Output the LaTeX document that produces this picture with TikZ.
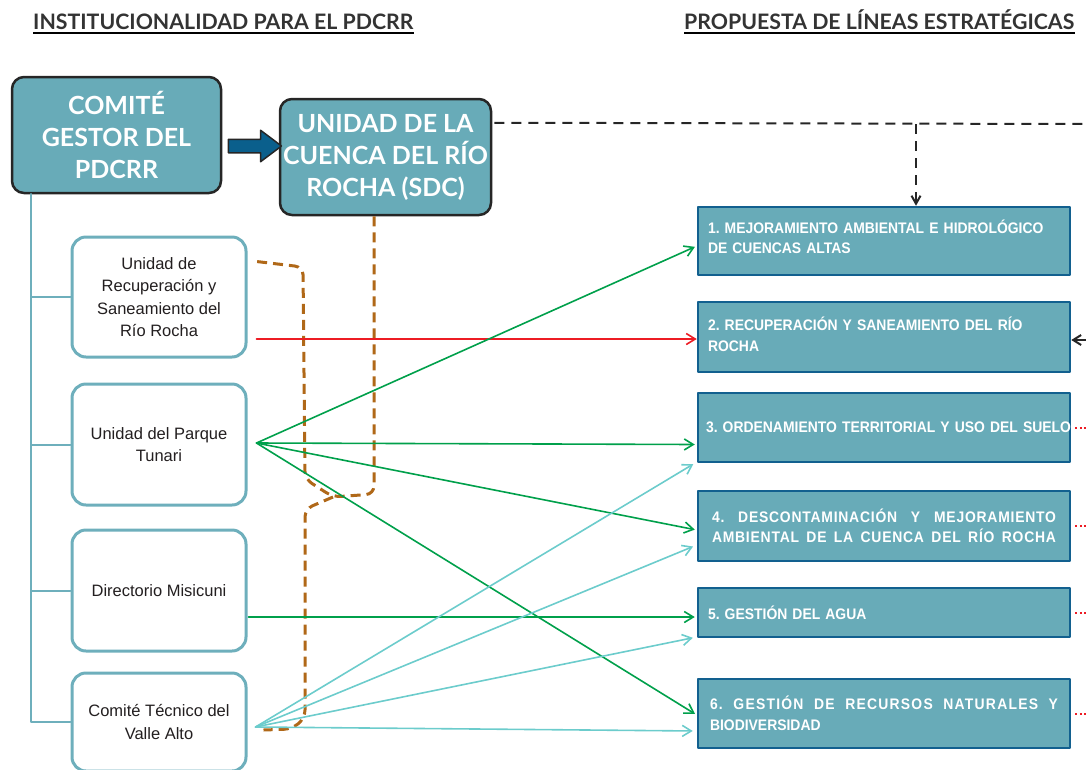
\documentclass[tikz,border=0pt]{standalone}
\usepackage{fontspec}
\setmainfont{Liberation Sans}
\newfontfamily\titlefont{Lato}
\newfontfamily\linefont[FakeStretch=0.91]{Liberation Sans}
\usetikzlibrary{arrows.meta, shapes.arrows, calc}
\definecolor{boxteal}{RGB}{104,171,184}
\definecolor{boxedge}{RGB}{18,96,143}
\definecolor{lightedge}{RGB}{110,175,188}
\definecolor{arrowblue}{RGB}{10,95,140}
\definecolor{linegreen}{RGB}{0,160,75}
\definecolor{linecyan}{RGB}{108,204,204}
\definecolor{linered}{RGB}{237,28,36}
\definecolor{linebrown}{RGB}{176,104,24}
\definecolor{textgray}{RGB}{35,31,32}
\newcommand\spreadline[2]{\makebox[#1][s]{\spaceskip=.3333em plus 1fil\relax#2}}
\frenchspacing
\begin{document}
\begin{tikzpicture}[line cap=round, line join=round, x=1pt, y=-1pt,
        header/.style={font=\titlefont\bfseries\fontsize{21.3}{25}\selectfont, text=black!80, inner xsep=0pt, inner ysep=3.5pt},
        headbox/.style={rounded corners=12pt, draw=black!85, line width=2.5pt, fill=boxteal, text=white, align=center, inner sep=0pt, font=\titlefont\bfseries\fontsize{25}{32}\selectfont},
        unitbox/.style={rounded corners=14pt, draw=lightedge, line width=3pt, fill=white, text=textgray, align=center, inner sep=0pt, minimum width=174pt, font=\fontsize{16.5}{22.5}\selectfont},
        linebox/.style={draw=boxedge, line width=2.5pt, fill=boxteal, text=white, text width=352pt, align=left, inner xsep=10pt, inner ysep=0pt, font=\linefont\bfseries\fontsize{15.3}{20.5}\selectfont},
        tree/.style={draw=lightedge, line width=2pt},
        tip/.style={-{Straight Barb[length=9pt, width=11pt]}, line width=1.6pt},
        grnarrow/.style={tip, draw=linegreen, shorten >=2pt},
        cyanarrow/.style={tip, draw=linecyan, shorten >=4pt},
        redarrow/.style={tip, draw=linered},
        brdash/.style={draw=linebrown, line width=3pt, line cap=butt, dash pattern=on 10pt off 6pt, rounded corners=8pt},
        blackdash/.style={draw=black!85, line width=2pt, line cap=butt, dash pattern=on 10pt off 7pt},
        reddot/.style={draw=linered, line width=2pt, line cap=butt, dash pattern=on 2pt off 2.5pt}]
    \useasboundingbox (0,0) rectangle (1086,769);
    \clip (0,0) rectangle (1086,769);
    \node[header, anchor=base west] (h1) at (33,29) {INSTITUCIONALIDAD PARA EL PDCRR};
    \node[header, anchor=base west] (h2) at (684,29) {PROPUESTA DE LÍNEAS ESTRATÉGICAS};
    \draw[line width=1.6pt, line cap=butt] (h1.south west) -- (h1.south east);
    \draw[line width=1.6pt, line cap=butt] (h2.south west) -- (h2.south east);
    \node[headbox, minimum width=209pt, minimum height=116pt] (cg) at (116.5,135) {COMITÉ\\GESTOR DEL\\PDCRR};
    \node[headbox, minimum width=211pt, minimum height=116pt] (sdc) at (385.5,157) {UNIDAD DE LA\\CUENCA DEL RÍO\\ROCHA (SDC)};
    \node[single arrow, draw=black!85, fill=arrowblue, line width=1.5pt, minimum height=53pt, inner xsep=0pt, inner ysep=6pt, single arrow head extend=9pt, single arrow tip angle=74] (ar) at ($(cg.east)!0.5!(sdc.west)$) {};
    \node[unitbox, minimum height=120pt] (u1) at (159,297) {Unidad de\\Recuperación y\\Saneamiento del\\Río Rocha};
    \node[unitbox, minimum height=121pt] (u2) at (159,444.5) {Unidad del Parque\\Tunari};
    \node[unitbox, minimum height=121pt] (u3) at (159,590.5) {Directorio Misicuni};
    \node[unitbox, minimum height=98pt] (u4) at (159,722) {Comité Técnico del\\Valle Alto};
    \node[linebox, minimum height=68pt] (l1) at (884,241) {1. MEJORAMIENTO AMBIENTAL E HIDROLÓGICO\\DE CUENCAS ALTAS\vspace{8pt}};
    \node[linebox, minimum height=70pt] (l2) at (884,337) {2. RECUPERACIÓN Y SANEAMIENTO DEL RÍO\\ROCHA\vspace{5pt}};
    \node[linebox, minimum height=69pt] (l3) at (884,427.5) {\hspace*{-2pt}\mbox{3. ORDENAMIENTO TERRITORIAL Y USO DEL SUELO}};
    \node[linebox, minimum height=70pt] (l4) at (884,526) {\addfontfeature{LetterSpace=5}\hspace*{4pt}\spreadline{344pt}{4. DESCONTAMINACIÓN Y MEJORAMIENTO}\\\hspace*{4pt}\spreadline{344pt}{AMBIENTAL DE LA CUENCA DEL RÍO ROCHA}};
    \node[linebox, minimum height=49pt] (l5) at (884,612.5) {5. GESTIÓN DEL AGUA};
    \node[linebox, minimum height=69pt] (l6) at (884,713.5) {\hspace*{2pt}{\addfontfeature{LetterSpace=8}\spreadline{348pt}{6. GESTIÓN DE RECURSOS NATURALES Y}}\\\hspace*{2pt}BIODIVERSIDAD};
    \coordinate (t) at ($(cg.south west)+(20,0)$);
    \foreach \u in {u1,u2,u3,u4}
        \draw[tree] (t) |- (\u.west);
    \coordinate (b0) at ($(sdc.south)+(-11.5,0)$);
    \coordinate (b1) at ($(u1.north east)+(9,26)$);
    \coordinate (b2) at ($(u4.east)+(16,8)$);
    \coordinate (bj) at (333,497);
    \draw[brdash] (b0) -- (374,494) -- (bj) -- (305,479) -- (303,267) -- (b1);
    \draw[brdash] (bj) -- (305,509) -- (305,718) -- (292,729) -- (b2);
    \coordinate (s1) at ($(u1.east)+(9,42)$);
    \coordinate (s2) at ($(u2.east)+(9,-1.5)$);
    \coordinate (s3) at ($(u3.east)+(1,26.5)$);
    \coordinate (s4) at ($(u4.east)+(8,5)$);
    \draw[redarrow] (s1) -- (s1 -| l2.west);
    \foreach \l/\dy in {l1/5, l3/17, l4/4, l6/1.5}
        \draw[grnarrow] (s2) -- ($(\l.west)+(0,\dy)$);
    \draw[grnarrow] (s3) -- (s3 -| l5.west);
    \foreach \l/\dy in {l3/34.5, l4/19, l5/24.5, l6/17.5}
        \draw[cyanarrow] (s4) -- ($(\l.west)+(0,\dy)$);
    \coordinate (d0) at ($(sdc.north east)+(2,25)$);
    \coordinate (d1) at (1086,124);
    \coordinate (d2) at (916,124);
    \draw[blackdash] (d0) -- (d1);
    \draw[blackdash, -{Straight Barb[length=8pt, width=9pt]}] (d2) -- (d2 |- l1.north);
    \coordinate (r2) at (1086,340);
    \draw[line width=2pt, draw=black!85, -{Straight Barb[length=8pt, width=10pt]}] (r2) -- (r2 -| l2.east);
    \foreach \l in {l3,l4,l5,l6}
        \draw[reddot] ($(\l.east)+(4,0)$) -- ++(14,0);
\end{tikzpicture}
\end{document}
